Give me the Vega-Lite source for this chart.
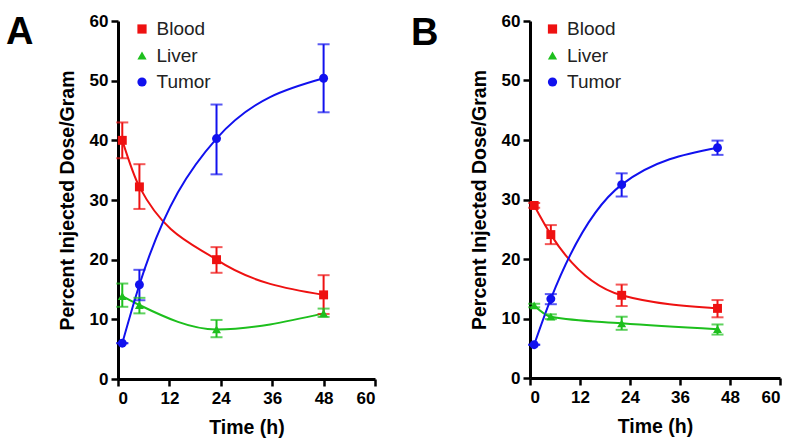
{
  "$schema": "https://vega.github.io/schema/vega-lite/v6.json",
  "padding": {"left": 6, "top": 12, "right": 5, "bottom": 5},
  "background": "white",
  "spacing": 34,
  "config": {
    "font": "Liberation Sans",
    "view": {"stroke": null},
    "axis": {
      "domainColor": "black", "domainWidth": 3, "tickColor": "black", "tickWidth": 2.5, "tickSize": 7,
      "labelFont": "Liberation Sans", "labelFontWeight": "bold", "labelFontSize": 17, "labelColor": "black",
      "titleFont": "Liberation Sans", "titleFontWeight": "bold", "titleFontSize": 19.5, "titleColor": "black",
      "grid": false
    },
    "axisX": {"labelPadding": 4, "titlePadding": 12},
    "axisY": {"labelPadding": 3, "titlePadding": 12},
    "legend": {
      "labelFont": "Liberation Sans", "labelFontSize": 19, "labelColor": "#222", "labelOffset": 5,
      "rowPadding": 6.5, "symbolSize": 85, "padding": 0
    },
    "title": {"font": "Liberation Sans", "fontSize": 38, "fontWeight": "bold", "color": "black", "anchor": "start", "frame": "group", "offset": 0}
  },
  "datasets": {
    "a": [
      {"series": "Blood", "t": 1, "v": 40.0, "lo": 37.0, "hi": 43.0},
      {"series": "Blood", "t": 5, "v": 32.2, "lo": 28.5, "hi": 36.0},
      {"series": "Blood", "t": 23, "v": 20.0, "lo": 17.8, "hi": 22.1},
      {"series": "Blood", "t": 48, "v": 14.1, "lo": 10.9, "hi": 17.4},
      {"series": "Liver", "t": 1, "v": 13.9, "lo": 12.1, "hi": 16.0},
      {"series": "Liver", "t": 5, "v": 12.4, "lo": 11.0, "hi": 13.6},
      {"series": "Liver", "t": 23, "v": 8.3, "lo": 7.0, "hi": 9.9},
      {"series": "Liver", "t": 48, "v": 11.0, "lo": 10.4, "hi": 11.8},
      {"series": "Tumor", "t": 1, "v": 6.0, "lo": 6.0, "hi": 6.0},
      {"series": "Tumor", "t": 5, "v": 15.8, "lo": 13.2, "hi": 18.3},
      {"series": "Tumor", "t": 23, "v": 40.3, "lo": 34.3, "hi": 46.0},
      {"series": "Tumor", "t": 48, "v": 50.4, "lo": 44.7, "hi": 56.1}
    ],
    "b": [
      {"series": "Blood", "t": 1, "v": 29.0, "lo": 28.6, "hi": 29.4},
      {"series": "Blood", "t": 5, "v": 24.1, "lo": 22.5, "hi": 25.7},
      {"series": "Blood", "t": 22, "v": 13.9, "lo": 12.1, "hi": 15.7},
      {"series": "Blood", "t": 45, "v": 11.7, "lo": 10.2, "hi": 13.1},
      {"series": "Liver", "t": 1, "v": 12.2, "lo": 11.9, "hi": 12.5},
      {"series": "Liver", "t": 5, "v": 10.3, "lo": 9.9, "hi": 10.7},
      {"series": "Liver", "t": 22, "v": 9.2, "lo": 8.1, "hi": 10.3},
      {"series": "Liver", "t": 45, "v": 8.2, "lo": 7.3, "hi": 9.0},
      {"series": "Tumor", "t": 1, "v": 5.6, "lo": 5.6, "hi": 5.6},
      {"series": "Tumor", "t": 5, "v": 13.3, "lo": 12.4, "hi": 14.1},
      {"series": "Tumor", "t": 22, "v": 32.5, "lo": 30.5, "hi": 34.4},
      {"series": "Tumor", "t": 45, "v": 38.7, "lo": 37.5, "hi": 39.9}
    ]
  },
  "hconcat": [
    {
      "width": 257, "height": 358,
      "title": {"text": "A", "dx": -112, "dy": 44},
      "data": {"name": "a"},
      "encoding": {
        "x": {"field": "t", "type": "quantitative", "title": "Time (h)", "scale": {"domain": [0, 60]}, "axis": {"values": [0, 12, 24, 36, 48, 60]}}
      },
      "layer": [
        {"mark": {"type": "line", "interpolate": "monotone", "strokeWidth": 2},
         "encoding": {
           "y": {"field": "v", "type": "quantitative", "title": "Percent Injected Dose/Gram", "scale": {"domain": [0, 60]}, "axis": {"values": [0, 10, 20, 30, 40, 50, 60]}},
           "stroke": {"field": "series", "type": "nominal", "scale": {"range": ["#ee1111", "#1dbf1d", "#1111ee"]}, "legend": null}
         }},
        {"mark": {"type": "rule", "strokeWidth": 2},
         "encoding": {
           "y": {"field": "lo", "type": "quantitative"}, "y2": {"field": "hi"},
           "stroke": {"field": "series", "type": "nominal", "legend": null}
         }},
        {"mark": {"type": "tick", "orient": "horizontal", "size": 12, "thickness": 2},
         "encoding": {
           "y": {"field": "lo", "type": "quantitative"},
           "fill": {"field": "series", "type": "nominal", "scale": {"range": ["#ee1111", "#1dbf1d", "#1111ee"]}, "legend": null}
         }},
        {"mark": {"type": "tick", "orient": "horizontal", "size": 12, "thickness": 2},
         "encoding": {
           "y": {"field": "hi", "type": "quantitative"},
           "fill": {"field": "series", "type": "nominal", "legend": null}
         }},
        {"mark": {"type": "point", "filled": true, "opacity": 1, "size": 80},
         "encoding": {
           "y": {"field": "v", "type": "quantitative"},
           "shape": {"field": "series", "type": "nominal", "scale": {"domain": ["Blood", "Liver", "Tumor"], "range": ["square", "triangle-up", "circle"]}, "legend": {"title": null, "orient": "none", "legendX": 14.5, "legendY": -1.5, "labelFontSize": 19, "labelColor": "#222", "labelOffset": 5, "rowPadding": 6.5}},
           "color": {"field": "series", "type": "nominal", "scale": {"domain": ["Blood", "Liver", "Tumor"], "range": ["#ee1111", "#1dbf1d", "#1111ee"]}, "legend": {"title": null, "orient": "none", "legendX": 14.5, "legendY": -1.5, "labelFontSize": 19, "labelColor": "#222", "labelOffset": 5, "rowPadding": 6.5}}
         }}
      ]
    },
    {
      "width": 250, "height": 357,
      "title": {"text": "B", "dx": -119, "dy": 45},
      "data": {"name": "b"},
      "encoding": {
        "x": {"field": "t", "type": "quantitative", "title": "Time (h)", "scale": {"domain": [0, 60]}, "axis": {"values": [0, 12, 24, 36, 48, 60]}}
      },
      "layer": [
        {"mark": {"type": "line", "interpolate": "monotone", "strokeWidth": 2},
         "encoding": {
           "y": {"field": "v", "type": "quantitative", "title": "Percent Injected Dose/Gram", "scale": {"domain": [0, 60]}, "axis": {"values": [0, 10, 20, 30, 40, 50, 60]}},
           "stroke": {"field": "series", "type": "nominal", "scale": {"range": ["#ee1111", "#1dbf1d", "#1111ee"]}, "legend": null}
         }},
        {"mark": {"type": "rule", "strokeWidth": 2},
         "encoding": {
           "y": {"field": "lo", "type": "quantitative"}, "y2": {"field": "hi"},
           "stroke": {"field": "series", "type": "nominal", "legend": null}
         }},
        {"mark": {"type": "tick", "orient": "horizontal", "size": 12, "thickness": 2},
         "encoding": {
           "y": {"field": "lo", "type": "quantitative"},
           "fill": {"field": "series", "type": "nominal", "scale": {"range": ["#ee1111", "#1dbf1d", "#1111ee"]}, "legend": null}
         }},
        {"mark": {"type": "tick", "orient": "horizontal", "size": 12, "thickness": 2},
         "encoding": {
           "y": {"field": "hi", "type": "quantitative"},
           "fill": {"field": "series", "type": "nominal", "legend": null}
         }},
        {"mark": {"type": "point", "filled": true, "opacity": 1, "size": 80},
         "encoding": {
           "y": {"field": "v", "type": "quantitative"},
           "shape": {"field": "series", "type": "nominal", "scale": {"domain": ["Blood", "Liver", "Tumor"], "range": ["square", "triangle-up", "circle"]}, "legend": {"title": null, "orient": "none", "legendX": 13, "legendY": -1.5, "labelFontSize": 19, "labelColor": "#222", "labelOffset": 5, "rowPadding": 6.5}},
           "color": {"field": "series", "type": "nominal", "scale": {"domain": ["Blood", "Liver", "Tumor"], "range": ["#ee1111", "#1dbf1d", "#1111ee"]}, "legend": {"title": null, "orient": "none", "legendX": 13, "legendY": -1.5, "labelFontSize": 19, "labelColor": "#222", "labelOffset": 5, "rowPadding": 6.5}}
         }}
      ]
    }
  ],
  "resolve": {"scale": {"color": "independent", "shape": "independent", "stroke": "independent", "fill": "independent"}, "legend": {"color": "independent", "shape": "independent"}}
}
